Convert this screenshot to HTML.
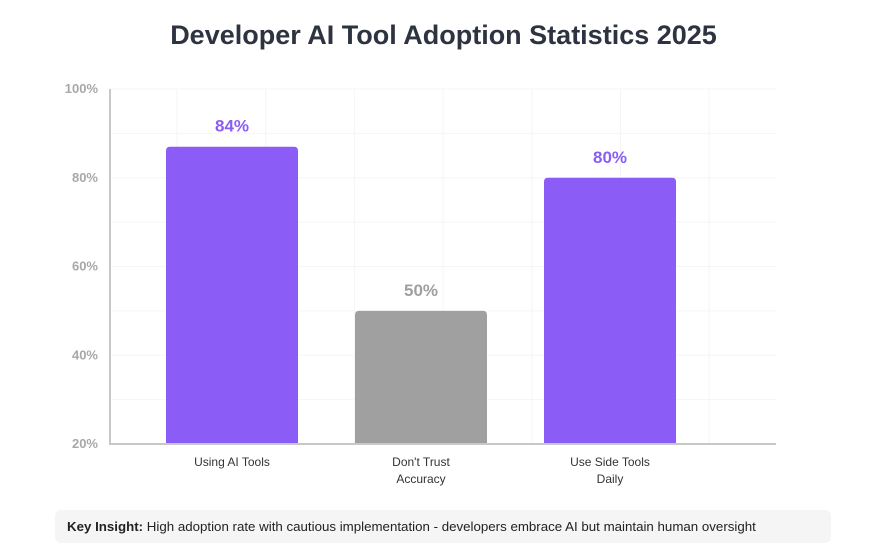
<!DOCTYPE html>
<html><head><meta charset="utf-8"><style>
body{margin:0;width:887px;height:548px;background:#fff;font-family:"Liberation Sans",sans-serif;overflow:hidden;position:relative}
#title{position:absolute;left:0;top:20px;width:887px;text-align:center;font-size:27px;font-weight:bold;color:#2d3340}
#insight{position:absolute;left:55px;top:510px;width:752px;height:33px;padding:0 12px;background:#f5f5f5;border-radius:6px;font-size:13.3px;line-height:33px;color:#222}
</style></head><body>
<div id="title">Developer AI Tool Adoption Statistics 2025</div>
<svg id="chart" width="887" height="500" style="position:absolute;left:0;top:0"></svg>
<div id="insight"><b>Key Insight:</b> High adoption rate with cautious implementation - developers embrace AI but maintain human oversight</div>
<script>
const categories=[["Using AI Tools"],["Don't Trust","Accuracy"],["Use Side Tools","Daily"]];
const values=[87,50,80];
const valueLabels=["84%","50%","80%"];
const barColors=["#8b5cf6","#a0a0a0","#8b5cf6"];
const labelColors=["#8b5cf6","#a0a0a0","#8b5cf6"];
const yTicks=[20,40,60,80,100];
const NS="http://www.w3.org/2000/svg";
const svg=document.getElementById('chart');
const y=v=>444-(v-20)*(355/80);
const xc=i=>232+189*i;
function mk(t,a,p){const e=document.createElementNS(NS,t);for(const k in a)e.setAttribute(k,a[k]);(p||svg).appendChild(e);return e;}
for(let v=20;v<=100;v+=10){const l=mk('line',{x1:110,x2:776,y1:y(v),y2:y(v),stroke:'#f5f5f5'});

}
for(let k=0;k<7;k++){const x=177+88.7*k;const l=mk('line',{x1:x,x2:x,y1:89,y2:444,stroke:'#f5f5f5'});

}
yTicks.forEach(v=>{const t=mk('text',{x:98,y:y(v)+4,'text-anchor':'end','font-size':13,'font-weight':'bold',fill:'#a8a8a8'});t.textContent=v+'%';

});
values.forEach((v,i)=>{
const b=mk('path',{d:`M${xc(i)-66},444 V${y(v)+4} q0,-4 4,-4 H${xc(i)+62} q4,0 4,4 V444 Z`,fill:barColors[i]});


const t=mk('text',{x:xc(i),y:y(v)-15,'text-anchor':'middle','font-size':17,'font-weight':'bold',fill:labelColors[i]});t.textContent=valueLabels[i];


categories[i].forEach((s,j)=>{const c=mk('text',{x:xc(i),y:466+j*17,'text-anchor':'middle','font-size':12,fill:'#333'});c.textContent=s;

});
});
const ya=mk('line',{x1:110,x2:110,y1:89,y2:444,stroke:'#c8c8c8','stroke-width':2});


const xa=mk('line',{x1:109,x2:776,y1:444,y2:444,stroke:'#c8c8c8','stroke-width':2});


</script>
</body></html>
